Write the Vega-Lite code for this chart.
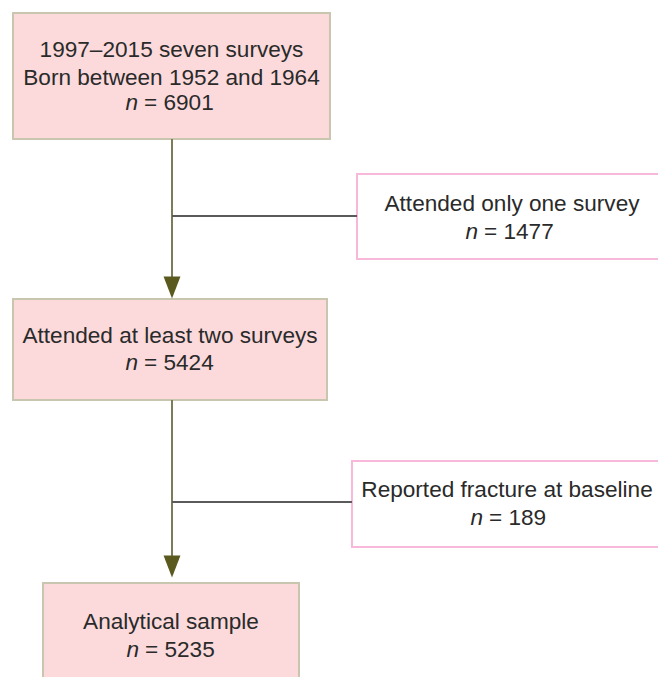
{
  "$schema": "https://vega.github.io/schema/vega-lite/v6.json",
  "width": 658,
  "height": 677,
  "autosize": {"type": "fit", "contains": "padding"},
  "padding": 0,
  "background": "#ffffff",
  "config": {"view": {"stroke": null}},
  "datasets": {
    "boxes": [
      {"x1": 13, "x2": 330, "y1": 13, "y2": 139, "kind": "main"},
      {"x1": 357, "x2": 690, "y1": 174, "y2": 259, "kind": "excl"},
      {"x1": 13, "x2": 327, "y1": 299, "y2": 400, "kind": "main"},
      {"x1": 352, "x2": 690, "y1": 461, "y2": 547, "kind": "excl"},
      {"x1": 43, "x2": 299, "y1": 583, "y2": 700, "kind": "main"}
    ],
    "links": [
      {"x1": 172, "x2": 172, "y1": 139, "y2": 285, "dir": "v"},
      {"x1": 172, "x2": 357, "y1": 216, "y2": 216, "dir": "h"},
      {"x1": 172, "x2": 172, "y1": 400, "y2": 564, "dir": "v"},
      {"x1": 172, "x2": 352, "y1": 502, "y2": 502, "dir": "h"}
    ],
    "arrows": [
      {"x": 172, "y": 287.5},
      {"x": 172, "y": 566.5}
    ],
    "lines": [
      {"x": 171.5, "y": 57, "t": "1997–2015 seven surveys"},
      {"x": 171.5, "y": 85, "t": "Born between 1952 and 1964"},
      {"x": 512, "y": 211, "t": "Attended only one survey"},
      {"x": 170, "y": 343, "t": "Attended at least two surveys"},
      {"x": 507, "y": 497, "t": "Reported fracture at baseline"},
      {"x": 171, "y": 629, "t": "Analytical sample"}
    ],
    "nlines": [
      {"x": 170, "y": 110, "rest": "= 6901"},
      {"x": 510, "y": 239, "rest": "= 1477"},
      {"x": 170, "y": 370, "rest": "= 5424"},
      {"x": 509, "y": 525, "rest": "= 189"},
      {"x": 171, "y": 657, "rest": "= 5235"}
    ]
  },
  "layer": [
    {
      "data": {"name": "boxes"},
      "mark": {"type": "rect", "strokeWidth": 2, "clip": true},
      "encoding": {
        "x": {"field": "x1", "type": "quantitative", "scale": {"domain": [0, 658], "nice": false, "zero": false}, "axis": null},
        "x2": {"field": "x2"},
        "y": {"field": "y1", "type": "quantitative", "scale": {"domain": [0, 677], "nice": false, "zero": false, "reverse": true}, "axis": null},
        "y2": {"field": "y2"},
        "fill": {"field": "kind", "type": "nominal", "scale": {"domain": ["main", "excl"], "range": ["#fcdadc", "#ffffff"]}, "legend": null},
        "stroke": {"field": "kind", "type": "nominal", "scale": {"domain": ["main", "excl"], "range": ["#c9c6b0", "#f7b8da"]}, "legend": null}
      }
    },
    {
      "data": {"name": "links"},
      "transform": [{"filter": "datum.dir == 'v'"}],
      "mark": {"type": "rule", "color": "#7e7c58", "strokeWidth": 2},
      "encoding": {
        "x": {"field": "x1", "type": "quantitative"},
        "x2": {"field": "x2"},
        "y": {"field": "y1", "type": "quantitative"},
        "y2": {"field": "y2"}
      }
    },
    {
      "data": {"name": "links"},
      "transform": [{"filter": "datum.dir == 'h'"}],
      "mark": {"type": "rule", "color": "#5a5a5a", "strokeWidth": 2},
      "encoding": {
        "x": {"field": "x1", "type": "quantitative"},
        "x2": {"field": "x2"},
        "y": {"field": "y1", "type": "quantitative"},
        "y2": {"field": "y2"}
      }
    },
    {
      "data": {"name": "arrows"},
      "mark": {"type": "point", "shape": "M-0.77,-1L0.77,-1L0,1Z", "filled": true, "color": "#5b5a1e", "opacity": 1, "size": 484},
      "encoding": {
        "x": {"field": "x", "type": "quantitative"},
        "y": {"field": "y", "type": "quantitative"}
      }
    },
    {
      "data": {"name": "lines"},
      "mark": {"type": "text", "font": "Liberation Sans", "fontSize": 22.6, "color": "#2a2a2a", "align": "center", "baseline": "alphabetic"},
      "encoding": {
        "x": {"field": "x", "type": "quantitative"},
        "y": {"field": "y", "type": "quantitative"},
        "text": {"field": "t"}
      }
    },
    {
      "data": {"name": "nlines"},
      "transform": [{"filter": "length(datum.rest) == 6"}],
      "mark": {"type": "text", "text": "n", "font": "Liberation Sans", "fontSize": 22.6, "fontStyle": "italic", "color": "#2a2a2a", "align": "right", "baseline": "alphabetic", "dx": -32},
      "encoding": {
        "x": {"field": "x", "type": "quantitative"},
        "y": {"field": "y", "type": "quantitative"}
      }
    },
    {
      "data": {"name": "nlines"},
      "transform": [{"filter": "length(datum.rest) == 6"}],
      "mark": {"type": "text", "font": "Liberation Sans", "fontSize": 22.6, "color": "#2a2a2a", "align": "left", "baseline": "alphabetic", "dx": -26},
      "encoding": {
        "x": {"field": "x", "type": "quantitative"},
        "y": {"field": "y", "type": "quantitative"},
        "text": {"field": "rest"}
      }
    },
    {
      "data": {"name": "nlines"},
      "transform": [{"filter": "length(datum.rest) == 5"}],
      "mark": {"type": "text", "text": "n", "font": "Liberation Sans", "fontSize": 22.6, "fontStyle": "italic", "color": "#2a2a2a", "align": "right", "baseline": "alphabetic", "dx": -26},
      "encoding": {
        "x": {"field": "x", "type": "quantitative"},
        "y": {"field": "y", "type": "quantitative"}
      }
    },
    {
      "data": {"name": "nlines"},
      "transform": [{"filter": "length(datum.rest) == 5"}],
      "mark": {"type": "text", "font": "Liberation Sans", "fontSize": 22.6, "color": "#2a2a2a", "align": "left", "baseline": "alphabetic", "dx": -20},
      "encoding": {
        "x": {"field": "x", "type": "quantitative"},
        "y": {"field": "y", "type": "quantitative"},
        "text": {"field": "rest"}
      }
    }
  ]
}
